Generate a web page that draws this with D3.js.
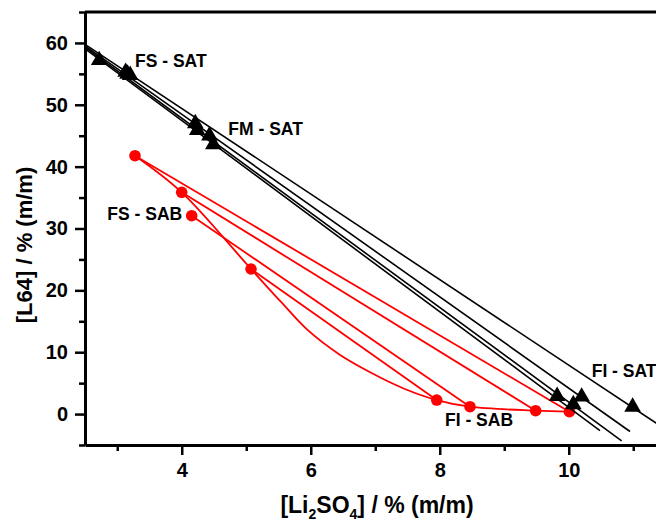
<!DOCTYPE html>
<html>
<head>
<meta charset="utf-8">
<script src="https://d3js.org/d3.v7.min.js"></script>
<style>
  html, body { margin: 0; padding: 0; background: #fff; }
  svg text { font-family: "Liberation Sans", Arial, Helvetica, sans-serif; font-weight: bold; fill: #000; }
</style>
</head>
<body>
<svg id="chart" width="656" height="524"></svg>
<script>
// Axis ranges and ticks
const xDomain = [2.5, 12];
const yDomain = [-5, 65];
const xMajorTicks = [4, 6, 8, 10];
const xMinorTicks = [3, 5, 7, 9, 11];
const yMajorTicks = [0, 10, 20, 30, 40, 50, 60];
const yMinorTicks = [-5, 5, 15, 25, 35, 45, 55, 65];

// Saturated tie lines (black): drawn extents of each line
const satLineX0 = [2.5, 2.5, 2.5, 2.5];
const satLineY0 = [59.77, 59.53, 59.30, 59.05];
const satLineX1 = [11.6, 10.95, 10.82, 10.484];
const satLineY1 = [-3.15, -2.82, -4.35, -2.66];

// Saturated points (triangles): top phase, mixture, bottom phase
const satTopX = [3.20, 3.16, 3.13, 2.72];
const satTopY = [54.8, 55.0, 55.3, 57.2];
const satMixX = [4.21, 4.24, 4.43, 4.49];
const satMixY = [47.0, 45.9, 45.0, 43.6];
const satBotX = [10.99, 10.20, 10.07, 9.82];
const satBotY = [1.15, 2.80, 1.55, 2.90];

// Biphasic points (circles): top phase and bottom phase of each tie line
const sabTopX = [3.275, 3.999, 4.154, 5.074];
const sabTopY = [41.77, 35.85, 32.07, 23.45];
const sabBotX = [10.01, 9.487, 8.469, 7.953];
const sabBotY = [0.38, 0.545, 1.19, 2.27];

// Binodal curve
const binodalX = [3.275, 3.999, 5.074, 5.55, 5.95, 6.45, 6.95, 7.45, 7.953, 8.469, 9.487, 10.01];
const binodalY = [41.77, 35.85, 23.45, 18.0, 13.6, 9.6, 6.6, 4.1, 2.27, 1.19, 0.545, 0.38];

// Annotations
const labelText = ["FS - SAT", "FM - SAT", "FS - SAB", "FI - SAB", "FI - SAT"];
const labelX = [3.275, 4.722, 2.846, 8.081, 10.356];
const labelY = [56.1, 45.11, 31.37, -1.93, 6.0];

const svg = d3.select("#chart");
const x = d3.scaleLinear().domain(xDomain).range([85, 85 + 9.5 * 64.5]);
const y = d3.scaleLinear().domain(yDomain).range([445, 12]);

const red = "#ff0000";

svg.append("clipPath").attr("id", "plotClip")
  .append("rect")
  .attr("x", x(xDomain[0])).attr("y", y(yDomain[1]))
  .attr("width", x(xDomain[1]) - x(xDomain[0]))
  .attr("height", y(yDomain[0]) - y(yDomain[1]));

const plot = svg.append("g").attr("clip-path", "url(#plotClip)");

// Binodal curve
const binodal = binodalX.map((v, i) => [v, binodalY[i]]);
plot.append("path")
  .datum(binodal)
  .attr("fill", "none")
  .attr("stroke", red)
  .attr("stroke-width", 1.8)
  .attr("d", d3.line().x(d => x(d[0])).y(d => y(d[1])).curve(d3.curveCatmullRom.alpha(0.5)));

// Biphasic tie lines
plot.selectAll(".sabTie")
  .data(d3.range(sabTopX.length))
  .join("line")
  .attr("x1", i => x(sabTopX[i])).attr("y1", i => y(sabTopY[i]))
  .attr("x2", i => x(sabBotX[i])).attr("y2", i => y(sabBotY[i]))
  .attr("stroke", red).attr("stroke-width", 1.8);

const sabPts = sabTopX.map((v, i) => [v, sabTopY[i]])
  .concat(sabBotX.map((v, i) => [v, sabBotY[i]]));
plot.selectAll(".sabPt")
  .data(sabPts)
  .join("circle")
  .attr("cx", d => x(d[0])).attr("cy", d => y(d[1]))
  .attr("r", 5.8)
  .attr("fill", red);

// Saturated tie lines
plot.selectAll(".satTie")
  .data(d3.range(satLineX0.length))
  .join("line")
  .attr("x1", i => x(satLineX0[i])).attr("y1", i => y(satLineY0[i]))
  .attr("x2", i => x(satLineX1[i])).attr("y2", i => y(satLineY1[i]))
  .attr("stroke", "#000").attr("stroke-width", 1.6);

const satPts = [];
[[satTopX, satTopY], [satMixX, satMixY], [satBotX, satBotY]].forEach(([xs, ys]) => {
  xs.forEach((v, i) => satPts.push([v, ys[i]]));
});
const tri = d3.symbol().type(d3.symbolTriangle).size(120);
plot.selectAll(".satPt")
  .data(satPts)
  .join("path")
  .attr("transform", d => `translate(${x(d[0])},${y(d[1])})`)
  .attr("d", tri)
  .attr("fill", "#000");

// Annotations
svg.selectAll(".lbl")
  .data(labelText)
  .join("text")
  .attr("x", (d, i) => x(labelX[i]))
  .attr("y", (d, i) => y(labelY[i]))
  .attr("font-size", 17.5)
  .text(d => d);

// Axes
const axisW = 3;
const gx = svg.append("g").attr("transform", `translate(0,${y(yDomain[0])})`);
gx.call(d3.axisBottom(x).tickValues(xMajorTicks).tickSize(10).tickSizeOuter(0).tickPadding(8).tickFormat(d3.format("d")));
const gxm = svg.append("g").attr("transform", `translate(0,${y(yDomain[0])})`);
gxm.call(d3.axisBottom(x).tickValues(xMinorTicks).tickSize(6).tickFormat(""));
gxm.select(".domain").remove();

const gy = svg.append("g").attr("transform", `translate(${x(xDomain[0])},0)`);
gy.call(d3.axisLeft(y).tickValues(yMajorTicks).tickSize(10).tickSizeOuter(0).tickPadding(7).tickFormat(d3.format("d")));
const gym = svg.append("g").attr("transform", `translate(${x(xDomain[0])},0)`);
gym.call(d3.axisLeft(y).tickValues(yMinorTicks).tickSize(6).tickFormat(""));
gym.select(".domain").remove();

// Top frame
svg.append("line")
  .attr("x1", x(xDomain[0])).attr("x2", x(xDomain[1]))
  .attr("y1", y(yDomain[1])).attr("y2", y(yDomain[1]))
  .attr("stroke", "#000").attr("stroke-width", axisW);

[gx, gxm, gy, gym].forEach(g => {
  g.selectAll(".domain").attr("stroke-width", axisW).attr("stroke", "#000");
  g.selectAll(".tick line").attr("stroke-width", 2.5).attr("stroke", "#000");
  g.selectAll(".tick text").attr("font-size", 20).attr("font-family", null).attr("fill", "#000");
});

// Axis titles
const xt = svg.append("text")
  .attr("x", 377).attr("y", 513)
  .attr("text-anchor", "middle")
  .attr("font-size", 23);
xt.append("tspan").text("[Li");
xt.append("tspan").attr("font-size", 14).attr("dy", 6).text("2");
xt.append("tspan").attr("dy", -6).text("SO");
xt.append("tspan").attr("font-size", 14).attr("dy", 6).text("4");
xt.append("tspan").attr("dy", -6).text("] / % (m/m)");

svg.append("text")
  .attr("transform", "translate(32,245) rotate(-90)")
  .attr("text-anchor", "middle")
  .attr("font-size", 22)
  .text("[L64] / % (m/m)");
</script>
</body>
</html>
